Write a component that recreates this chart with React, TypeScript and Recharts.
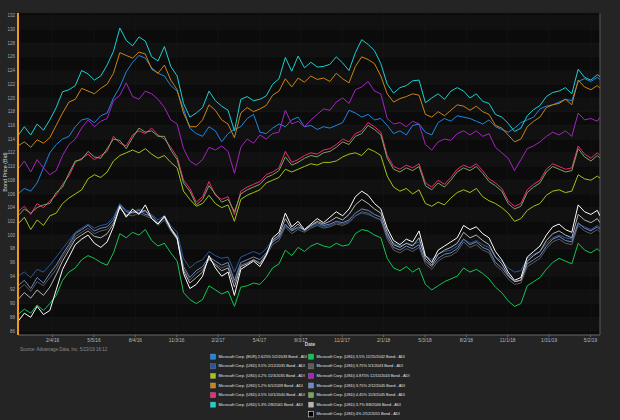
import React from 'react';
import { LineChart, Line, XAxis, YAxis, CartesianGrid, ReferenceLine } from 'recharts';

const dates = [
  '2015-11-20','2015-12-04','2015-12-18','2016-01-01','2016-01-15','2016-01-29','2016-02-12','2016-02-26','2016-03-11','2016-03-25',
  '2016-04-08','2016-04-22','2016-05-06','2016-05-20','2016-06-03','2016-06-17','2016-07-01','2016-07-15','2016-07-29','2016-08-12',
  '2016-08-26','2016-09-09','2016-09-23','2016-10-07','2016-10-21','2016-11-04','2016-11-18','2016-12-02','2016-12-16','2016-12-30',
  '2017-01-13','2017-01-27','2017-02-10','2017-02-24','2017-03-10','2017-03-24','2017-04-07','2017-04-21','2017-05-05','2017-05-19',
  '2017-06-02','2017-06-16','2017-06-30','2017-07-14','2017-07-28','2017-08-11','2017-08-25','2017-09-08','2017-09-22','2017-10-06',
  '2017-10-20','2017-11-03','2017-11-17','2017-12-01','2017-12-15','2017-12-29','2018-01-12','2018-01-26','2018-02-09','2018-02-23',
  '2018-03-09','2018-03-23','2018-04-06','2018-04-20','2018-05-04','2018-05-18','2018-06-01','2018-06-15','2018-06-29','2018-07-13',
  '2018-07-27','2018-08-10','2018-08-24','2018-09-07','2018-09-21','2018-10-05','2018-10-19','2018-11-02','2018-11-16','2018-11-30',
  '2018-12-14','2018-12-28','2019-01-11','2019-01-25','2019-02-08','2019-02-22','2019-03-08','2019-03-22','2019-04-05','2019-04-19',
  '2019-05-03','2019-05-17','2019-05-23'
];

const startDate = '2015-11-20';
const endDate = '2019-05-23';

const tickDates = ['2016-02-04','2016-05-05','2016-08-04','2016-11-03','2017-02-02','2017-05-04','2017-08-03','2017-11-02','2018-02-01','2018-05-03','2018-08-02','2018-11-01','2019-01-31','2019-05-02'];
const tickLabels = ['2/4/16','5/5/16','8/4/16','11/3/16','2/2/17','5/4/17','8/3/17','11/2/17','2/1/18','5/3/18','8/2/18','11/1/18','1/31/19','5/2/19'];
const yTicks = [86,88,90,92,94,96,98,100,102,104,106,108,110,112,114,116,118,120,122,124,126,128,130,132];

const eur2033 = [
  106.0,106.8,106.4,107.6,109.8,112.0,113.2,114.0,114.4,115.8,116.8,117.0,116.4,117.4,117.8,120.0,121.6,123.8,125.2,126.2,125.8,124.4,123.6,123.2,121.8,121.0,118.4,115.6,
  114.8,114.4,115.8,115.2,113.6,114.8,115.4,115.8,117.0,117.6,115.0,114.8,115.6,116.2,115.8,116.8,117.2,115.8,116.0,115.4,115.8,
  115.6,116.0,116.4,118.2,117.8,117.2,117.6,116.8,117.0,116.0,114.8,115.2,114.6,116.0,116.2,115.0,114.6,116.4,117.0,116.6,117.4,117.2,
  117.0,116.6,116.2,116.8,115.8,115.4,115.0,115.6,116.4,116.8,117.2,118.4,118.8,119.0,119.4,119.8,119.6,122.4,122.8,122.4,123.0,122.7
];
const usd35_2035 = [
  94.0,94.6,93.8,95.0,94.6,95.6,96.8,98.0,99.2,100.4,101.0,101.6,101.0,101.4,101.6,102.6,104.6,103.6,103.4,103.8,103.4,103.0,102.2,102.8,101.4,100.4,96.6,95.2,
  96.0,96.4,97.6,97.0,96.6,96.8,94.6,96.8,97.2,97.6,97.2,98.0,99.4,99.8,101.4,100.6,101.0,100.8,101.2,101.6,101.2,
  101.4,101.8,101.6,102.0,102.8,103.2,103.0,102.6,102.2,100.0,98.8,98.4,98.8,98.6,99.0,97.0,96.4,97.2,97.6,97.8,98.4,99.4,
  98.8,99.2,98.6,98.2,96.8,96.2,95.2,94.6,94.8,96.6,97.2,97.6,98.8,99.6,100.0,99.6,99.4,101.6,101.2,100.8,101.4,101.0
];
const usd42_2035 = [
  101.6,102.6,100.8,102.2,101.4,102.8,103.2,104.6,105.4,106.0,106.6,108.2,108.8,108.4,109.2,110.8,111.6,112.0,112.4,112.0,112.6,111.8,111.2,111.6,110.6,109.8,106.4,105.2,
  104.2,104.6,105.8,104.6,104.0,104.4,102.0,105.2,105.8,106.2,106.6,107.6,108.0,108.4,109.6,109.2,109.6,110.0,110.4,110.2,110.6,
  110.6,110.8,111.4,111.8,112.0,111.6,112.6,112.2,111.6,108.6,107.0,106.4,106.8,106.0,106.6,104.6,104.2,104.8,104.4,105.4,106.2,106.6,
  106.2,106.8,105.6,105.0,104.6,104.0,103.2,102.0,102.4,103.6,104.2,104.6,105.8,106.4,106.6,106.2,106.4,108.8,108.2,108.0,108.6,108.3
];
const usd52_2039 = [
  113.0,113.6,112.8,113.9,113.4,114.2,116.0,117.8,119.4,119.8,121.4,121.0,120.6,121.4,122.0,123.6,126.6,126.2,125.8,126.7,126.4,124.2,123.6,124.8,122.6,121.2,117.8,115.8,
  115.8,116.8,119.0,118.2,116.8,116.2,114.2,117.8,118.6,118.0,118.4,118.9,120.4,121.0,122.8,121.6,122.9,122.3,123.2,122.7,122.9,
  122.4,123.6,122.8,122.2,124.6,126.0,125.6,125.0,123.2,120.6,119.4,119.9,120.2,120.6,120.4,117.6,117.2,118.0,117.4,118.2,119.0,118.8,
  118.2,118.8,118.0,117.6,116.0,115.6,114.6,113.6,114.0,115.8,116.6,117.2,118.6,119.0,119.2,119.8,119.0,122.6,121.6,121.2,121.8,121.4
];
const usd45_2040 = [
  103.4,104.2,103.0,104.6,104.0,105.0,105.8,107.4,108.6,110.6,111.2,111.8,111.0,111.6,112.2,114.4,113.4,113.0,114.6,115.2,114.8,115.6,114.6,114.0,112.8,111.4,108.0,106.8,
  104.8,105.6,107.8,105.8,105.2,105.6,103.0,106.4,107.0,107.4,107.8,108.8,109.2,109.8,112.2,110.6,111.0,111.6,112.0,111.8,112.4,
  112.6,113.2,114.0,113.6,114.8,115.2,116.4,115.8,115.0,111.6,110.0,109.6,110.2,109.8,110.4,107.6,107.0,108.0,107.4,108.4,109.6,110.2,
  109.8,110.4,109.4,108.2,107.6,106.8,105.0,104.2,104.6,106.6,107.4,108.0,109.6,110.4,110.0,109.6,109.8,113.0,111.8,111.2,112.0,111.6
];
const usd53_2041 = [
  114.5,115.8,114.6,116.2,115.3,116.8,118.6,120.9,121.2,121.8,124.0,123.5,122.6,123.2,124.8,126.8,130.2,128.4,127.6,128.9,128.3,126.0,125.4,127.5,124.6,123.2,119.2,117.2,
  117.8,118.6,121.0,119.6,118.8,118.2,115.2,119.8,120.2,119.6,119.8,120.3,122.0,122.8,125.9,123.9,126.1,124.4,125.2,124.5,124.6,
  124.9,126.0,125.1,124.0,126.6,128.5,127.8,126.9,125.0,122.0,120.7,121.5,121.8,122.5,122.6,119.3,120.0,120.6,119.8,121.0,121.5,121.0,
  120.0,120.6,119.5,119.2,117.6,117.2,116.3,115.1,115.6,117.4,118.3,118.9,120.2,120.8,121.0,121.5,120.6,124.2,123.0,122.6,123.4,123.1
];
const usd35_2042 = [
  88.4,89.2,88.6,89.8,89.0,90.0,91.2,93.4,94.6,95.2,96.4,97.0,96.6,96.0,95.6,97.4,100.2,99.6,100.4,100.0,100.8,99.2,98.4,98.8,97.4,96.2,91.6,90.6,
  90.0,90.6,92.6,92.0,91.4,91.8,89.6,92.4,92.6,93.0,92.8,93.8,95.2,95.8,97.8,97.0,98.2,97.6,98.4,98.8,98.4,
  98.2,98.8,98.4,98.6,100.2,100.8,100.6,100.0,99.6,96.6,95.2,94.8,95.4,94.6,95.2,92.8,92.0,92.6,93.2,93.6,94.0,95.2,
  94.6,95.0,94.4,93.6,92.4,91.6,90.4,89.6,90.0,92.6,93.2,93.8,95.0,96.0,96.6,96.2,95.8,98.8,97.8,97.4,98.0,97.6
];
const usd375_2043 = [
  92.0,92.8,91.8,93.2,92.6,93.8,95.0,96.8,98.2,99.8,100.4,101.0,100.2,100.6,100.8,101.8,104.0,103.0,102.8,103.2,102.8,102.4,101.4,102.2,100.6,99.4,95.0,93.4,
  94.4,95.0,96.4,95.8,95.2,95.6,93.0,95.6,96.0,96.4,96.0,97.0,98.6,99.2,101.2,100.2,100.8,100.4,101.0,101.4,101.0,
  101.2,101.6,101.4,101.8,102.8,103.4,103.2,102.6,102.2,99.4,97.8,97.4,98.0,97.6,98.2,95.8,95.0,96.2,96.8,97.0,97.6,99.0,
  98.2,98.6,97.8,97.4,95.6,94.8,93.6,92.8,93.0,95.4,96.0,96.6,98.0,99.0,99.4,98.8,98.6,101.4,100.6,100.2,100.8,100.4
];
const usd4875_2043 = [
  109.6,110.8,109.2,111.0,109.8,108.8,109.4,111.6,113.2,114.0,115.6,116.8,115.8,116.6,117.0,119.6,120.4,122.2,120.2,119.8,121.0,120.6,119.8,118.6,116.8,116.2,112.6,110.8,
  110.2,111.0,112.8,112.4,113.0,112.2,109.0,112.8,114.0,113.4,114.6,114.0,114.8,115.0,118.2,116.2,116.6,115.8,116.8,117.6,118.4,
  118.2,119.4,120.0,119.2,121.2,121.6,122.4,121.0,120.6,117.0,116.2,116.4,115.8,116.6,116.2,113.2,112.4,113.6,114.0,113.8,114.8,115.2,
  114.6,115.2,114.4,114.8,112.8,112.0,111.2,109.4,111.0,112.6,113.0,113.6,114.4,115.0,114.6,115.2,114.4,117.8,116.8,117.0,116.6,117.2
];
const usd375_2045 = [
  92.6,93.4,92.2,93.8,93.0,94.4,95.6,97.2,98.6,100.2,100.8,101.4,100.6,101.0,101.2,102.2,104.4,103.4,103.2,103.6,103.0,102.8,101.8,102.6,101.0,99.8,95.4,93.8,
  94.8,95.4,96.8,96.2,95.6,96.0,93.4,96.0,96.4,96.8,96.4,97.4,99.0,99.6,101.6,100.6,101.2,100.8,101.4,101.8,101.4,
  101.6,102.0,101.8,102.2,103.2,103.8,103.6,103.0,102.6,99.8,98.2,97.8,98.4,98.0,98.6,96.2,95.4,96.6,97.2,97.4,98.0,99.4,
  98.6,99.0,98.2,97.8,96.0,95.2,94.0,93.2,93.4,95.8,96.4,97.0,98.4,99.4,99.8,99.2,99.0,101.8,101.0,100.6,101.2,100.8
];
const usd445_2045 = [
  102.8,103.8,103.2,104.0,104.4,104.6,106.2,107.0,109.0,110.8,111.0,112.2,111.4,111.2,112.6,114.0,113.8,112.6,114.2,115.6,115.0,115.2,114.4,114.4,112.4,111.0,107.6,106.4,
  104.4,105.2,107.2,106.0,104.8,105.2,103.4,106.0,106.6,107.0,107.4,108.4,108.8,109.4,111.4,110.2,110.6,111.2,111.6,111.4,112.0,
  112.2,112.8,113.6,113.2,114.4,114.8,116.0,115.4,114.6,111.2,109.6,109.2,109.8,109.4,110.0,107.2,106.6,107.6,107.0,108.0,109.2,109.8,
  109.4,110.0,109.0,107.8,107.2,106.4,104.6,103.8,104.2,106.2,107.0,107.6,109.2,110.0,109.6,109.2,109.4,112.6,111.4,110.8,111.6,111.2
];
const usd37_2046 = [
  90.6,91.6,90.8,92.0,91.2,92.4,94.2,96.2,97.8,99.4,100.0,100.6,99.8,99.6,100.2,101.6,104.0,102.8,103.4,103.2,103.6,102.4,101.6,102.6,100.8,99.4,94.8,93.0,
  93.8,94.6,96.6,95.6,94.8,95.2,92.4,95.4,95.8,96.4,95.8,97.2,99.2,100.0,102.4,100.8,101.6,100.6,101.4,102.0,101.6,
  102.0,102.6,102.2,103.0,104.4,105.2,104.6,103.8,103.2,100.4,98.6,98.2,98.8,98.4,99.6,96.6,95.6,97.2,97.8,98.2,98.8,100.4,
  99.6,100.0,99.2,98.6,96.8,95.8,94.2,93.2,93.4,96.2,97.0,97.6,99.2,100.2,100.6,100.0,99.6,103.0,102.2,101.8,102.4,101.8
];
const usd4_2055 = [
  87.4,88.6,88.0,89.6,88.4,89.0,92.0,95.0,96.8,98.6,99.4,100.0,98.8,98.2,99.0,101.2,104.2,102.6,103.8,103.0,104.4,102.4,101.6,102.8,101.0,99.6,94.4,92.2,
  92.8,94.0,97.0,95.2,94.0,94.6,91.2,95.0,95.6,96.2,95.4,97.0,99.6,100.4,103.2,101.2,102.0,100.8,101.6,102.4,101.8,
  102.6,103.4,102.8,103.8,105.6,106.4,105.8,104.6,103.8,101.0,99.2,98.6,99.4,99.0,100.6,97.0,96.0,97.8,98.4,99.0,99.6,101.4,
  100.8,101.2,100.2,99.6,97.6,96.4,94.6,93.4,93.8,96.8,97.6,98.4,100.0,101.2,101.6,100.8,100.4,104.4,103.4,103.0,103.6,102.8
];

const seriesNames = [
  'Microsoft Corp. (EUR) 2.625% 5/2/2033 Bond - ADI',
  'Microsoft Corp. (USD) 3.5% 2/12/2035 Bond - ADI',
  'Microsoft Corp. (USD) 4.2% 11/3/2035 Bond - ADI',
  'Microsoft Corp. (USD) 5.2% 6/1/2039 Bond - ADI',
  'Microsoft Corp. (USD) 4.5% 10/1/2040 Bond - ADI',
  'Microsoft Corp. (USD) 5.3% 2/8/2041 Bond - ADI',
  'Microsoft Corp. (USD) 3.5% 11/15/2042 Bond - ADI',
  'Microsoft Corp. (USD) 3.75% 5/1/2043 Bond - ADI',
  'Microsoft Corp. (USD) 4.875% 12/15/2043 Bond - ADI',
  'Microsoft Corp. (USD) 3.75% 2/12/2045 Bond - ADI',
  'Microsoft Corp. (USD) 4.45% 11/3/2045 Bond - ADI',
  'Microsoft Corp. (USD) 3.7% 8/8/2046 Bond - ADI',
  'Microsoft Corp. (USD) 4% 2/12/2055 Bond - ADI'
];
const seriesValues = [eur2033, usd35_2035, usd42_2035, usd52_2039, usd45_2040, usd53_2041, usd35_2042, usd375_2043, usd4875_2043, usd375_2045, usd445_2045, usd37_2046, usd4_2055];
const seriesColors = ['#1f86e0', '#2b5796', '#a3c414', '#c98419', '#ee2a7e', '#1ccfcf', '#14c451', '#5c5c5c', '#a523c4', '#6d88c2', '#7aa85a', '#b4b4b4', '#ffffff'];
const swatchFills = ['#1f86e0', '#2b5796', '#a3c414', '#c98419', '#ee2a7e', '#1ccfcf', '#14c451', '#5c5c5c', '#a523c4', '#6d88c2', '#7aa85a', '#b4b4b4', '#000000'];

const toTime = (s: string) => Date.UTC(Number(s.slice(0, 4)), Number(s.slice(5, 7)) - 1, Number(s.slice(8, 10)));
const tickTimes = tickDates.map(toTime);

const rows = dates.map((d, i) => {
  const r: Record<string, number> = { t: toTime(d) };
  seriesValues.forEach((arr, k) => { r['s' + k] = arr[i]; });
  return r;
});

const FONT = "'Liberation Sans', Arial, sans-serif";

function LegendBox() {
  const leftCount = 6;
  return (
    <svg width={620} height={420} style={{ position: 'absolute', left: 0, top: 0, pointerEvents: 'none' }}>
      <text x={0} y={0} transform="translate(5.5,172) rotate(-90)" textAnchor="middle" dominantBaseline="middle" fontSize={5.4} fill="#cfcfcf" fontFamily={FONT}>Bond Price (Bid)</text>
      <text x={310} y={345} textAnchor="middle" dominantBaseline="middle" fontSize={4.8} fontWeight="bold" fill="#d0d0d0" fontFamily={FONT}>Date</text>
      <text x={20} y={349.5} dominantBaseline="middle" fontSize={4.5} fill="#8c8c8c" fontFamily={FONT}>Source: Advantage Data, Inc. 5/23/19 16:12</text>
      {seriesNames.map((name, k) => {
        const col = k < leftCount ? 0 : 1;
        const row = k < leftCount ? k : k - leftCount;
        const sx = col === 0 ? 213 : 311;
        const cy = 356.7 + row * 9.6;
        return (
          <g key={name}>
            <rect x={sx - 2.6} y={cy - 2.6} width={5.2} height={5.2} fill={swatchFills[k]} stroke={k === 12 ? '#ffffff' : 'rgba(255,255,255,0.3)'} strokeWidth={0.5} />
            <text x={sx + 5.5} y={cy} dominantBaseline="middle" fontSize={3.9} fill="#e2e2e2" fontFamily={FONT}>{name}</text>
          </g>
        );
      })}
    </svg>
  );
}

export default function App() {
  const tMin = toTime(startDate);
  const tMax = toTime(endDate);
  return (
    <div style={{ position: 'fixed', left: 0, top: 0, width: 620, height: 420, background: '#242424', overflow: 'hidden', fontFamily: FONT }}>
      <LineChart width={620} height={360} data={rows} margin={{ top: 13, right: 20, bottom: 11, left: 0 }}>
        <CartesianGrid
          stroke="#181818"
          strokeWidth={0.6}
          fill="#080808"
          horizontalFill={['#0b0b0b', '#111111']}
          vertical={true}
          horizontal={true}
        />
        <XAxis
          dataKey="t"
          type="number"
          domain={[tMin, tMax]}
          ticks={tickTimes}
          allowDataOverflow
          height={14}
          tickFormatter={(v: number) => tickLabels[tickTimes.indexOf(v)] ?? ''}
          tick={{ fontSize: 4.8, fill: '#b8b8b8' }}
          tickSize={2}
          tickMargin={1.5}
          axisLine={{ stroke: '#6a6a6a', strokeWidth: 1 }}
          tickLine={{ stroke: '#6a6a6a' }}
          interval={0}
        />
        <YAxis
          type="number"
          domain={[85.42, 132.39]}
          ticks={yTicks}
          allowDataOverflow
          width={18}
          tick={{ fontSize: 4.5, fill: '#a8a8a8' }}
          tickSize={0}
          tickMargin={3}
          tickLine={false}
          axisLine={{ stroke: '#f09a1c', strokeWidth: 2 }}
          interval={0}
        />
        <ReferenceLine x={tMax} stroke="#5a5a5a" strokeWidth={1} />
        {seriesValues.map((_, k) => (
          <Line
            key={k}
            type="linear"
            dataKey={'s' + k}
            name={seriesNames[k]}
            stroke={seriesColors[k]}
            strokeWidth={1}
            dot={false}
            activeDot={false}
            isAnimationActive={false}
          />
        ))}
      </LineChart>
      <LegendBox />
    </div>
  );
}
